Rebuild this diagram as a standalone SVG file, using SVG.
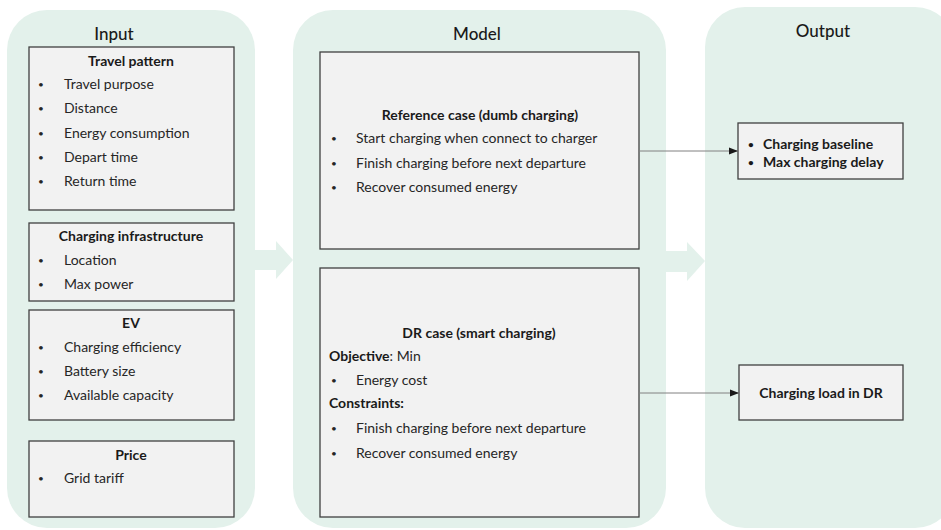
<svg xmlns="http://www.w3.org/2000/svg" width="941" height="530" viewBox="0 0 941 530">
  <style>
    .panel { fill: #e3f1eb; }
    .flow { fill: #e3f1eb; }
    .box { fill: #f2f2f2; stroke: #404040; stroke-width: 1.3; }
    text { font-family: Lato, "Noto Sans", "Liberation Sans", sans-serif; fill: #262626; font-size: 14px; }
    .head { font-size: 17px; font-weight: 500; fill: #1a1a1a; text-anchor: middle; }
    .title { font-weight: bold; text-anchor: middle; fill: #1a1a1a; }
    .bold { font-weight: bold; fill: #1a1a1a; }
    .dot { font-size: 10px; }
    .link { stroke: #808080; stroke-width: 1; fill: none; marker-end: url(#arrow); }
  </style>
  <defs>
    <marker id="arrow" viewBox="0 0 10 10" refX="10" refY="5" markerWidth="9" markerHeight="9" markerUnits="userSpaceOnUse" orient="auto">
      <path d="M0,1 L10,5 L0,9 Z" fill="#1a1a1a"/>
    </marker>
  </defs>

  <rect width="941" height="530" fill="#ffffff"/>

  <!-- column backgrounds -->
  <g id="panels">
    <rect class="panel" x="7" y="10" width="248" height="518" rx="40"/>
    <rect class="panel" x="293" y="10" width="373" height="518" rx="40"/>
    <rect class="panel" x="705" y="7" width="250" height="521" rx="40"/>
    <path class="flow" d="M255,250 H276 V241 L293,260 L276,279 V270 H255 Z"/>
    <path class="flow" d="M666,251 H687 V242 L705,261 L687,281 V272 H666 Z"/>
    <text class="head" x="114" y="40">Input</text>
    <text class="head" x="477" y="40">Model</text>
    <text class="head" x="823" y="37">Output</text>
  </g>

  <!-- input boxes -->
  <g id="travel-pattern">
    <rect class="box" x="29" y="47" width="205" height="163"/>
    <text class="title" x="131" y="66">Travel pattern</text>
    <text class="dot" x="38" y="88">•</text><text x="64" y="89">Travel purpose</text>
    <text class="dot" x="38" y="112">•</text><text x="64" y="113">Distance</text>
    <text class="dot" x="38" y="137">•</text><text x="64" y="138">Energy consumption</text>
    <text class="dot" x="38" y="161">•</text><text x="64" y="162">Depart time</text>
    <text class="dot" x="38" y="185">•</text><text x="64" y="186">Return time</text>
  </g>

  <g id="charging-infrastructure">
    <rect class="box" x="29" y="223" width="205" height="78"/>
    <text class="title" x="131" y="241">Charging infrastructure</text>
    <text class="dot" x="38" y="264">•</text><text x="64" y="265">Location</text>
    <text class="dot" x="38" y="288">•</text><text x="64" y="289">Max power</text>
  </g>

  <g id="ev">
    <rect class="box" x="29" y="310" width="205" height="110"/>
    <text class="title" x="131" y="328">EV</text>
    <text class="dot" x="38" y="351">•</text><text x="64" y="352">Charging efficiency</text>
    <text class="dot" x="38" y="375">•</text><text x="64" y="376">Battery size</text>
    <text class="dot" x="38" y="399">•</text><text x="64" y="400">Available capacity</text>
  </g>

  <g id="price">
    <rect class="box" x="29" y="441" width="205" height="76"/>
    <text class="title" x="131" y="460">Price</text>
    <text class="dot" x="38" y="482">•</text><text x="64" y="483">Grid tariff</text>
  </g>

  <!-- model boxes -->
  <g id="reference-case">
    <rect class="box" x="320" y="52" width="319" height="197"/>
    <text class="title" x="480" y="120">Reference case (dumb charging)</text>
    <text class="dot" x="331" y="142">•</text><text x="356" y="143">Start charging when connect to charger</text>
    <text class="dot" x="331" y="167">•</text><text x="356" y="168">Finish charging before next departure</text>
    <text class="dot" x="331" y="191">•</text><text x="356" y="192">Recover consumed energy</text>
  </g>

  <g id="dr-case">
    <rect class="box" x="320" y="268" width="319" height="249"/>
    <text class="title" x="479" y="338">DR case (smart charging)</text>
    <text x="329" y="361"><tspan class="bold">Objective</tspan>: Min</text>
    <text class="dot" x="331" y="384">•</text><text x="356" y="385">Energy cost</text>
    <text class="bold" x="329" y="408">Constraints:</text>
    <text class="dot" x="331" y="432">•</text><text x="356" y="433">Finish charging before next departure</text>
    <text class="dot" x="331" y="457">•</text><text x="356" y="458">Recover consumed energy</text>
  </g>

  <!-- output boxes -->
  <g id="baseline-output">
    <rect class="box" x="738" y="123" width="165" height="56"/>
    <text class="dot bold" x="748" y="148">•</text><text class="bold" x="763" y="149">Charging baseline</text>
    <text class="dot bold" x="748" y="166">•</text><text class="bold" x="763" y="167">Max charging delay</text>
  </g>

  <g id="dr-output">
    <rect class="box" x="739" y="365" width="164" height="55"/>
    <text class="title" x="821" y="398">Charging load in DR</text>
  </g>

  <!-- connectors -->
  <g id="connectors">
    <path class="link" d="M639,151 H738"/>
    <path class="link" d="M639,393 H739"/>
  </g>
</svg>
